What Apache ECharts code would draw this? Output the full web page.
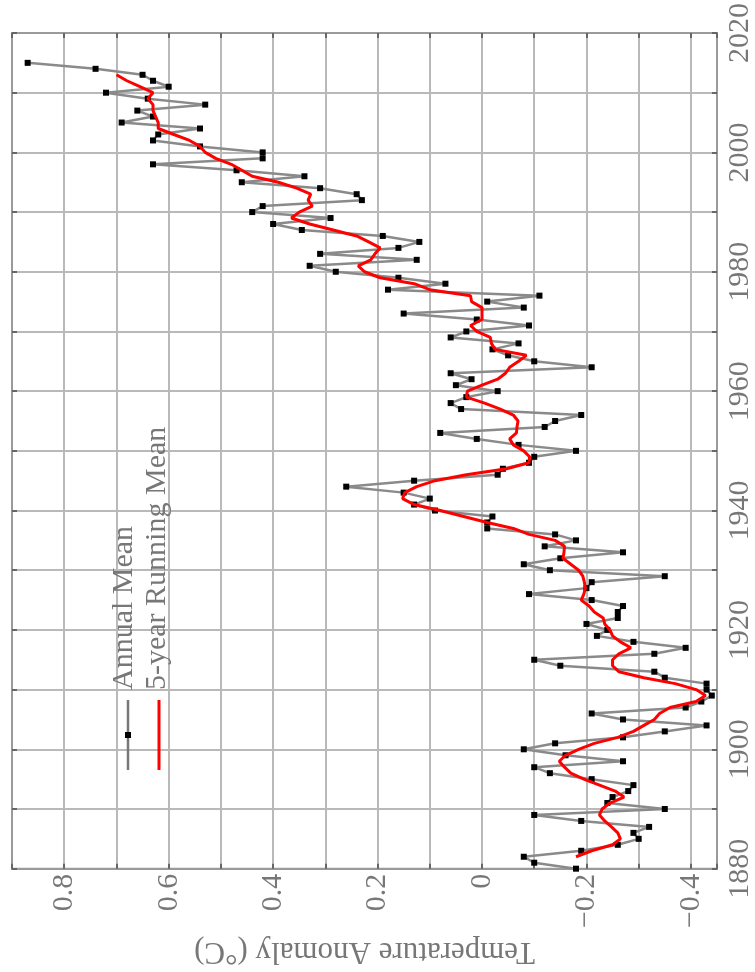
<!DOCTYPE html>
<html>
<head>
<meta charset="utf-8">
<script src="https://cdn.jsdelivr.net/npm/echarts@6/dist/echarts.min.js"></script>
<style>
  html, body { margin: 0; padding: 0; background: #fff; }
  #chart { width: 755px; height: 972px; }
</style>
</head>
<body>
<div id="chart"></div>
<script>
// ---- data ----
var years = [];
for (var yy = 1880; yy <= 2015; yy++) years.push(yy);

var annualMean = [
  -0.18, -0.10, -0.08, -0.19, -0.26, -0.30, -0.29, -0.32, -0.19, -0.10, // 1880-1889
  -0.35, -0.24, -0.25, -0.28, -0.29, -0.21, -0.13, -0.10, -0.27, -0.16, // 1890-1899
  -0.08, -0.14, -0.27, -0.35, -0.43, -0.27, -0.21, -0.39, -0.42, -0.44, // 1900-1909
  -0.43, -0.43, -0.35, -0.33, -0.15, -0.10, -0.33, -0.39, -0.29, -0.22, // 1910-1919
  -0.24, -0.20, -0.26, -0.26, -0.27, -0.21, -0.09, -0.20, -0.21, -0.35, // 1920-1929
  -0.13, -0.08, -0.15, -0.27, -0.12, -0.18, -0.14, -0.01, -0.01, -0.02, // 1930-1939
   0.09,  0.13,  0.10,  0.15,  0.26,  0.13, -0.03, -0.04, -0.09, -0.10, // 1940-1949
  -0.18, -0.07,  0.01,  0.08, -0.12, -0.14, -0.19,  0.04,  0.06,  0.03, // 1950-1959
  -0.03,  0.05,  0.02,  0.06, -0.21, -0.10, -0.05, -0.02, -0.07,  0.06, // 1960-1969
   0.03, -0.09,  0.01,  0.15, -0.08, -0.01, -0.11,  0.18,  0.07,  0.16, // 1970-1979
   0.28,  0.33,  0.125, 0.31,  0.16,  0.12,  0.19,  0.345, 0.40,  0.29, // 1980-1989
   0.44,  0.42,  0.23,  0.24,  0.31,  0.46,  0.34,  0.47,  0.63,  0.42, // 1990-1999
   0.42,  0.54,  0.63,  0.62,  0.54,  0.69,  0.63,  0.66,  0.53,  0.64, // 2000-2009
   0.72,  0.60,  0.63,  0.65,  0.74,  0.87                              // 2010-2015
];

var runYears = [];
for (var ry = 1882; ry <= 2013; ry++) runYears.push(ry);

var runningMean = [
  -0.18, -0.21, -0.25, -0.265, -0.26, -0.248, -0.235, -0.225,             // 1882-1889
  -0.23, -0.245, -0.272, -0.255, -0.225, -0.195, -0.17, -0.158, -0.148, -0.16, // 1890-1899
  -0.185, -0.215, -0.26, -0.29, -0.31, -0.33, -0.34, -0.36, -0.41, -0.428,   // 1900-1909
  -0.41, -0.37, -0.31, -0.262, -0.25, -0.25, -0.262, -0.285, -0.265, -0.25,  // 1910-1919
  -0.245, -0.235, -0.232, -0.215, -0.205, -0.19, -0.195, -0.198, -0.196, -0.193, // 1920-1929
  -0.185, -0.17, -0.155, -0.157, -0.158, -0.14, -0.09, -0.06, -0.01, 0.035,  // 1930-1939
   0.08, 0.13, 0.152, 0.148, 0.125, 0.09, 0.03, -0.047, -0.09, -0.091,     // 1940-1949
  -0.08, -0.06, -0.053, -0.066, -0.067, -0.069, -0.06, -0.035, -0.005, 0.03, // 1950-1959
   0.028, 0.0, -0.03, -0.045, -0.053, -0.07, -0.085, -0.025, -0.018, -0.016, // 1960-1969
   0.01, 0.022, 0.0, 0.0, 0.0, 0.02, 0.022, 0.1, 0.13, 0.195,              // 1970-1979
   0.225, 0.237, 0.213, 0.205, 0.195, 0.217, 0.24, 0.285, 0.33, 0.365,    // 1980-1989
   0.35, 0.325, 0.333, 0.328, 0.355, 0.39, 0.44, 0.46, 0.48, 0.51,        // 1990-1999
   0.53, 0.54, 0.56, 0.59, 0.62, 0.62, 0.625, 0.63, 0.63, 0.64,           // 2000-2009
   0.63, 0.655, 0.68, 0.70                                                // 2010-2013
];

var tempTickLabels = ['\u22120.4', '\u22120.2', '0', '0.2', '0.4', '0.6', '0.8'];
var yearTickLabels = ['1880', '1900', '1920', '1940', '1960', '1980', '2000', '2020'];

var legendNames = ['Annual Mean', '5-year Running Mean'];
var axisTitle = 'Temperature Anomaly (\u00B0C)';

// ---- build ----
var annualData = years.map(function (y, i) { return [annualMean[i], y]; });
var runData = runYears.map(function (y, i) { return [runningMean[i], y]; });

var FONT = '"Liberation Serif", "DejaVu Serif", serif';
var gridColor = '#b9b9b9';
var frameColor = '#9a9a9a';
var textColor = '#777';

function tempLabel(v) {
  var r = Math.round(v * 10);
  if (Math.abs(v * 10 - r) > 1e-6) return '';
  var s = (r / 10).toFixed(1);
  if (r === 0) s = '0';
  s = s.replace('-', '\u2212');
  return tempTickLabels.indexOf(s) >= 0 ? s : '';
}
function yearLabel(v) {
  var s = String(Math.round(v));
  return yearTickLabels.indexOf(s) >= 0 ? s : '';
}

var chart = echarts.init(document.getElementById('chart'), null, { renderer: 'canvas' });

var tempAxisBase = {
  type: 'value', inverse: true, min: -0.45, max: 0.9, splitNumber: 13
};
var yearAxisBase = {
  type: 'value', min: 1880, max: 2020, interval: 10
};

chart.setOption({
  animation: false,
  backgroundColor: '#fff',
  grid: { left: 12, top: 16, right: 28, bottom: 94, show: true, borderColor: frameColor, borderWidth: 2, containLabel: false },
  xAxis: [
    Object.assign({}, tempAxisBase, {
      position: 'bottom',
      axisLine: { show: true, onZero: false, lineStyle: { color: frameColor, width: 2 } },
      axisTick: { show: true, inside: true, length: 5, lineStyle: { color: '#666', width: 2 } },
      splitLine: { show: true, lineStyle: { color: gridColor, width: 2 } },
      axisLabel: { show: true, rotate: 90, margin: 5, hideOverlap: false, formatter: tempLabel,
        fontFamily: FONT, fontSize: 30, color: textColor },
      name: axisTitle, nameLocation: 'middle', nameRotate: 180, nameGap: 48,
      nameTextStyle: { fontFamily: FONT, fontSize: 31, color: textColor }
    }),
    Object.assign({}, tempAxisBase, {
      position: 'top',
      axisLine: { show: true, onZero: false, lineStyle: { color: frameColor, width: 2 } },
      axisTick: { show: true, inside: true, length: 5, lineStyle: { color: '#666', width: 2 } },
      splitLine: { show: false }, axisLabel: { show: false }
    })
  ],
  yAxis: [
    Object.assign({}, yearAxisBase, {
      position: 'right',
      axisLine: { show: true, onZero: false, lineStyle: { color: frameColor, width: 2 } },
      axisTick: { show: true, inside: true, length: 5, lineStyle: { color: '#666', width: 2 } },
      splitLine: { show: true, lineStyle: { color: gridColor, width: 2 } },
      axisLabel: { show: true, rotate: 90, margin: 8, hideOverlap: false, formatter: yearLabel,
        fontFamily: FONT, fontSize: 30, color: textColor }
    }),
    Object.assign({}, yearAxisBase, {
      position: 'left',
      axisLine: { show: true, onZero: false, lineStyle: { color: frameColor, width: 2 } },
      axisTick: { show: true, inside: true, length: 5, lineStyle: { color: '#666', width: 2 } },
      splitLine: { show: false }, axisLabel: { show: false }
    })
  ],
  series: [
    {
      name: legendNames[0], type: 'line', xAxisIndex: 0, yAxisIndex: 0,
      data: annualData, symbol: 'rect', symbolSize: 6, showSymbol: true,
      lineStyle: { color: '#8a8a8a', width: 2.5 },
      itemStyle: { color: '#000', borderWidth: 0 }, z: 2
    },
    {
      name: legendNames[1], type: 'line', xAxisIndex: 0, yAxisIndex: 0,
      data: runData, symbol: 'none',
      lineStyle: { color: '#ff0000', width: 3 }, z: 3
    }
  ],
  graphic: [
    { type: 'line', shape: { x1: 128, y1: 700, x2: 128, y2: 770 }, style: { stroke: '#777', lineWidth: 2.5 }, z: 10 },
    { type: 'rect', shape: { x: 125, y: 732, width: 6, height: 6 }, style: { fill: '#000' }, z: 11 },
    { type: 'line', shape: { x1: 159, y1: 700, x2: 159, y2: 770 }, style: { stroke: '#ff0000', lineWidth: 3 }, z: 10 },
    { type: 'text', x: 124, y: 690, rotation: Math.PI / 2, z: 10,
      style: { text: legendNames[0], font: '30px ' + FONT, fill: textColor, align: 'left', verticalAlign: 'middle' } },
    { type: 'text', x: 157, y: 690, rotation: Math.PI / 2, z: 10,
      style: { text: legendNames[1], font: '30px ' + FONT, fill: textColor, align: 'left', verticalAlign: 'middle' } }
  ]
});
</script>
</body>
</html>
